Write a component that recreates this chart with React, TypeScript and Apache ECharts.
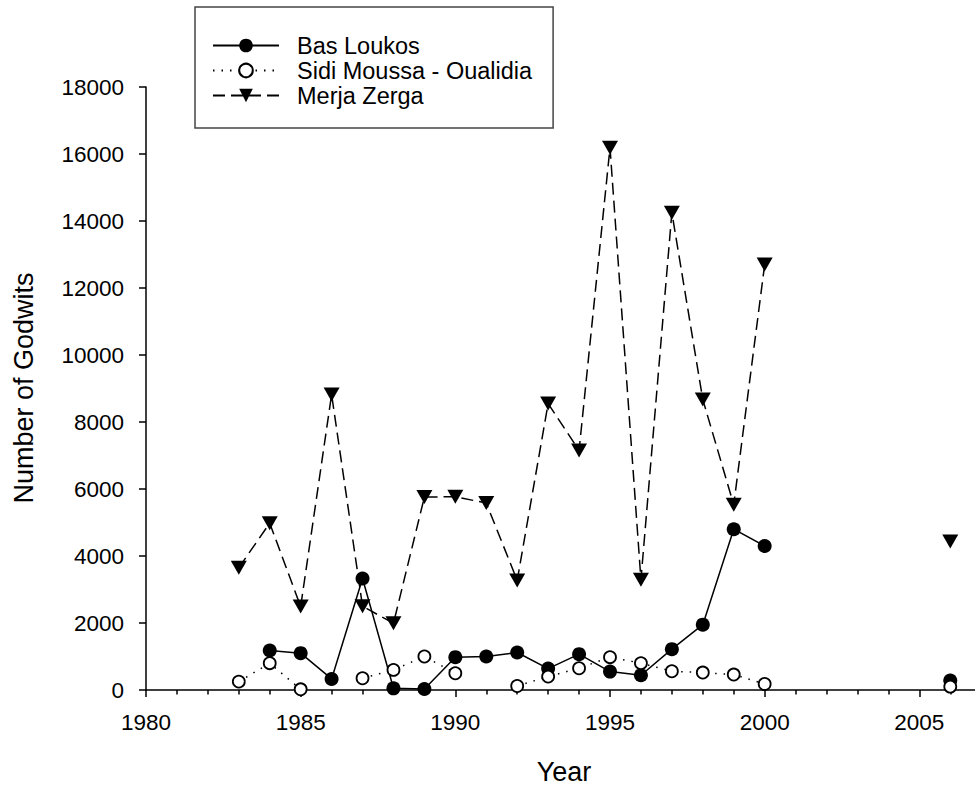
import React, { useEffect, useRef } from "react";
import * as echarts from "echarts";

const years = [
  1983, 1984, 1985, 1986, 1987, 1988, 1989, 1990, 1991, 1992, 1993, 1994,
  1995, 1996, 1997, 1998, 1999, 2000, 2001, 2002, 2003, 2004, 2005, 2006,
];

const basLoukos = [
  null, 1180, 1100, 330, 3330, 50, 30, 980, 1000, 1120, 640, 1070,
  550, 440, 1220, 1950, 4800, 4300, null, null, null, null, null, 280,
];

const sidiMoussa = [
  250, 800, 20, null, 350, 600, 1000, 500, null, 120, 400, 650,
  980, 800, 560, 520, 460, 180, null, null, null, null, null, 100,
];

const merjaZerga = [
  3650, 4980, 2490, 8820, 2500, 1990, 5760, 5770, 5580, 3270, 8550, 7150,
  16190, 3290, 14250, 8670, 5530, 12700, null, null, null, null, null, 4430,
];

const seriesNames = ["Bas Loukos", "Sidi Moussa - Oualidia", "Merja Zerga"];
const xTitle = "Year";
const yTitle = "Number of Godwits";

const FONT = "'Liberation Sans', Arial, Helvetica, sans-serif";

function pairs(values: (number | null)[]) {
  return years.map((y, i) => [y, values[i] === null ? null : values[i]]);
}

export default function App() {
  const ref = useRef<HTMLDivElement>(null);

  useEffect(() => {
    if (!ref.current) return;
    const chart = echarts.init(ref.current, undefined, { renderer: "svg" });
    const axisLineStyle = { color: "#000", width: 1.5 };
    const option: any = {
      animation: false,
      backgroundColor: "#fff",
      textStyle: { fontFamily: FONT },
      grid: {
        left: 146,
        top: 87,
        bottom: 96,
        right: -99,
        containLabel: false,
        outerBoundsMode: "none",
      },
      xAxis: {
        type: "value",
        min: 1980,
        max: 2010,
        interval: 5,
        axisLine: { show: true, onZero: false, lineStyle: axisLineStyle },
        axisTick: { show: true, length: 7, lineStyle: axisLineStyle },
        minorTick: { show: true, splitNumber: 5, length: 4.5, lineStyle: axisLineStyle },
        splitLine: { show: false },
        minorSplitLine: { show: false },
        axisLabel: {
          color: "#000",
          fontSize: 22.5,
          fontFamily: FONT,
          margin: 21,
          formatter: (v: number) => (v <= 2006 ? String(v) : ""),
        },
      },
      yAxis: {
        type: "value",
        min: 0,
        max: 18000,
        interval: 2000,
        axisLine: { show: true, onZero: false, lineStyle: axisLineStyle },
        axisTick: { show: true, length: 7, lineStyle: axisLineStyle },
        splitLine: { show: false },
        axisLabel: {
          color: "#000",
          fontSize: 22.5,
          fontFamily: FONT,
          margin: 22,
          formatter: (v: number) => String(v),
        },
      },
      legend: {
        orient: "vertical",
        left: 195,
        top: 7,
        data: seriesNames,
        itemWidth: 66,
        itemHeight: 17,
        itemGap: 0,
        padding: [26, 21, 20, 17],
        borderColor: "#444",
        borderWidth: 1.5,
        backgroundColor: "#fff",
        selectedMode: false,
        textStyle: {
          fontSize: 23.5,
          color: "#000",
          fontFamily: FONT,
          lineHeight: 25,
          padding: [0, 0, 0, 13],
        },
      },
      graphic: [
        {
          type: "text",
          x: 24,
          y: 388,
          rotation: Math.PI / 2,
          style: {
            text: yTitle,
            fontSize: 27,
            fontFamily: FONT,
            fill: "#000",
            align: "center",
            verticalAlign: "middle",
            textAlign: "center",
            textVerticalAlign: "middle",
          },
        },
        {
          type: "text",
          x: 564,
          y: 772,
          style: {
            text: xTitle,
            fontSize: 27,
            fontFamily: FONT,
            fill: "#000",
            align: "center",
            verticalAlign: "middle",
            textAlign: "center",
            textVerticalAlign: "middle",
          },
        },
      ],
      series: [
        {
          name: seriesNames[2],
          type: "line",
          data: pairs(merjaZerga),
          connectNulls: false,
          symbol: "triangle",
          symbolSize: [16, 14],
          symbolRotate: 180,
          itemStyle: { color: "#000" },
          lineStyle: { color: "#000", width: 1.5, type: [12, 6] },
          emphasis: { disabled: true },
          z: 2,
        },
        {
          name: seriesNames[0],
          type: "line",
          data: pairs(basLoukos),
          connectNulls: false,
          symbol: "circle",
          symbolSize: 14,
          itemStyle: { color: "#000" },
          lineStyle: { color: "#000", width: 1.5, type: "solid" },
          emphasis: { disabled: true },
          z: 3,
        },
        {
          name: seriesNames[1],
          type: "line",
          data: pairs(sidiMoussa),
          connectNulls: false,
          symbol: "circle",
          symbolSize: 12,
          itemStyle: { color: "#fff", borderColor: "#000", borderWidth: 1.8 },
          lineStyle: { color: "#000", width: 1.5, type: [1.5, 7] },
          emphasis: { disabled: true },
          z: 4,
        },
      ],
    };
    chart.setOption(option);
    return () => chart.dispose();
  }, []);

  return (
    <div
      ref={ref}
      style={{
        position: "fixed",
        left: 0,
        top: 0,
        width: 975,
        height: 786,
        background: "#fff",
      }}
    />
  );
}
